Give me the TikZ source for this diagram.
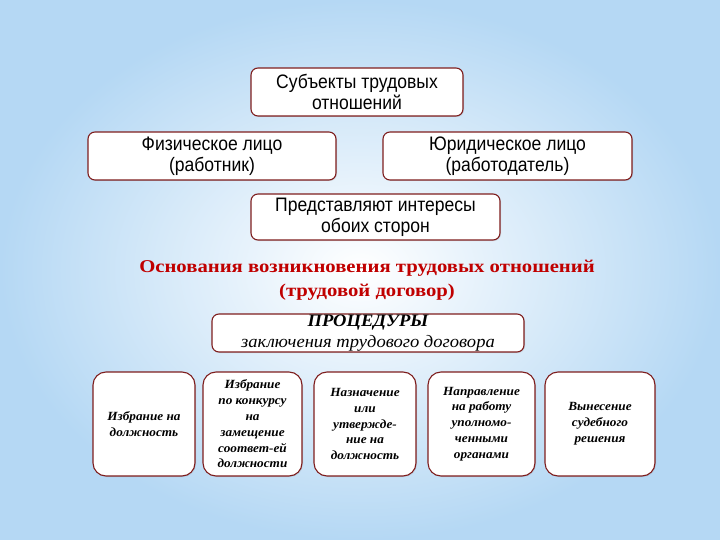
\documentclass[tikz,border=0pt]{standalone}
\usepackage{fontspec}
\setmainfont{Liberation Serif}
\newfontfamily\boxfont[FakeStretch=0.9]{Liberation Sans}
\newfontfamily\headfont[FakeStretch=1.15]{Liberation Serif}
\newfontfamily\wideserif[FakeStretch=1.06]{Liberation Serif}
\usepackage{tikz}
\usetikzlibrary{shadows}
\usepackage{xcolor}
\definecolor{rim}{HTML}{7E1E1E}
\definecolor{titlered}{HTML}{C00000}
\definecolor{skyblue}{HTML}{B5D8F4}
\tikzset{
  frame/.style={draw=rim, line width=1.1pt, rounded corners=7pt, fill=white,
    drop shadow={opacity=0.2, shadow xshift=1pt, shadow yshift=-1pt},
    align=center, inner sep=0pt},
  upper/.style={frame, font=\boxfont\fontsize{19.5}{21}\selectfont},
  lower/.style={frame, rounded corners=13pt,
    font=\wideserif\bfseries\itshape\fontsize{12.5}{15.8}\selectfont, minimum height=104pt}
}
\begin{document}
\begin{tikzpicture}[x=1pt,y=-1pt]
\useasboundingbox (0,0) rectangle (720,540);
\shade[outer color=skyblue, inner color=white] (0,0) rectangle (720,540);

\node[upper, minimum width=212pt, minimum height=48pt] (subj) at (357,92) {Субъекты трудовых\\отношений};
\node[upper, minimum width=248pt, minimum height=48pt] (fiz) at (212,156) {Физическое лицо\\(работник)};
\node[upper, minimum width=249pt, minimum height=48pt] (yur) at (507.5,156) {Юридическое лицо\\(работодатель)};
\node[upper, minimum width=249pt, minimum height=46pt] (pred) at (375.5,217) {Представляют интересы\\обоих сторон};

\node[align=center, text=titlered, font=\headfont\bfseries\fontsize{18}{24}\selectfont] (osn) at (367,280)
  {Основания возникновения трудовых отношений\\(трудовой договор)};

\node[frame, minimum width=312pt, minimum height=38pt, font=\wideserif\itshape\fontsize{17.5}{20.5}\selectfont] (proc) at (368,333)
  {{\bfseries ПРОЦЕДУРЫ}\\заключения трудового договора};

\node[lower, minimum width=102pt] (izbr) at (144,424) {Избрание на\\должность};
\node[lower, minimum width=99pt] (konk) at (252.5,424) {Избрание\\по конкурсу\\на\\замещение\\соответ-ей\\должности};
\node[lower, minimum width=102pt] (nazn) at (365,424) {Назначение\\или\\утвержде-\\ние на\\должность};
\node[lower, minimum width=107pt] (napr) at (481.5,424) {Направление\\на работу\\уполномо-\\ченными\\органами};
\node[lower, minimum width=110pt] (sud) at (600,424) {Вынесение\\судебного\\решения};
\end{tikzpicture}
\end{document}
